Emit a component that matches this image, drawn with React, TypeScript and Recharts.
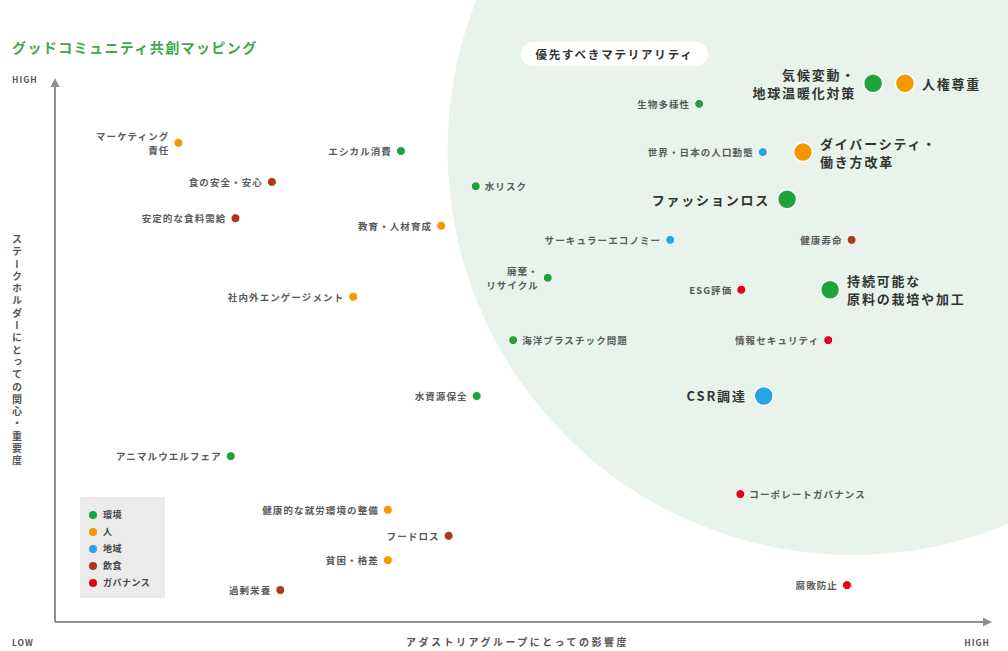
import React from 'react';
import { ScatterChart, Scatter, XAxis, YAxis, ReferenceDot, Legend } from 'recharts';

const FONT = "'Noto Sans CJK JP', 'Noto Sans', sans-serif";

// categories of materiality issues
const categories = ['環境', '人', '地域', '飲食', 'ガバナンス'];
const categoryColors = ['#1fa33b', '#f39800', '#27a5e3', '#a8391a', '#e60012'];

// issue names ("\n" = line break in the label)
const issueNames = [
  '気候変動・\n地球温暖化対策', '人権尊重', '生物多様性', '世界・日本の人口動態', 'ダイバーシティ・\n働き方改革',
  'ファッションロス', 'サーキュラーエコノミー', '健康寿命', '持続可能な\n原料の栽培や加工', 'ESG評価',
  '廃棄・\nリサイクル', '水リスク', '海洋プラスチック問題', '情報セキュリティ', 'CSR調達',
  '水資源保全', 'コーポレートガバナンス', '腐敗防止', 'エシカル消費', 'マーケティング\n責任',
  '食の安全・安心', '安定的な食料需給', '教育・人材育成', '社内外エンゲージメント', 'アニマルウエルフェア',
  '健康的な就労環境の整備', 'フードロス', '貧困・格差', '過剰栄養',
];
// x: impact on the Adastria group (0-100)
const impact = [
  87.5, 90.9, 68.9, 75.7, 80.0,
  78.3, 65.8, 85.2, 82.9, 73.4,
  52.7, 45.0, 49.0, 82.7, 75.8,
  45.1, 73.3, 84.7, 37.0, 13.2,
  23.2, 19.3, 41.3, 31.9, 18.8,
  35.6, 42.1, 35.6, 24.1,
];
// y: concern / importance for stakeholders (0-100)
const concern = [
  99.4, 99.4, 95.6, 86.7, 86.7,
  78.0, 70.5, 70.5, 61.3, 61.3,
  63.5, 80.4, 52.0, 52.0, 41.7,
  41.7, 23.6, 6.8, 86.9, 88.4,
  81.2, 74.5, 73.1, 60.0, 30.6,
  20.7, 15.9, 11.4, 5.9,
];
// index into categories
const issueCategory = [
  0, 1, 0, 2, 1,
  0, 2, 3, 0, 4,
  0, 0, 0, 4, 2,
  0, 4, 4, 0, 1,
  3, 3, 1, 1, 0,
  1, 3, 1, 3,
];
// priority materiality (large marker)
const isPriority = [
  true, true, false, false, true,
  true, false, false, true, false,
  false, false, false, false, true,
  false, false, false, false, false,
  false, false, false, false, false,
  false, false, false, false,
];

// labels drawn on the right side of the marker
const rightLabels = new Set(['人権尊重', 'ダイバーシティ・\n働き方改革', '持続可能な\n原料の栽培や加工', '水リスク', '海洋プラスチック問題', 'コーポレートガバナンス']);

const issues = issueNames.map((name, i) => ({
  name,
  x: impact[i],
  y: concern[i],
  cat: issueCategory[i],
  big: isPriority[i],
}));

const IssueMark = (props: any) => {
  const { cx, cy, payload, fill } = props;
  const big = payload.big;
  const r = big ? 9.5 : 4.5;
  const right = rightLabels.has(payload.name);
  const gap = big ? 17 : 9;
  const lines: string[] = payload.name.split('\n');
  const lh = big ? 18 : 14;
  const startY = cy - ((lines.length - 1) * lh) / 2;
  return (
    <g>
      <circle cx={cx} cy={cy} r={r} fill={fill} stroke="#fff" strokeWidth={big ? 1.5 : 1} />
      <text
        x={right ? cx + gap : cx - gap}
        textAnchor={right ? 'start' : 'end'}
        fontFamily={FONT}
        fontSize={big ? 13 : 9.5}
        fontWeight={700}
        letterSpacing={big ? 1.8 : 1.1}
        fill={big ? '#333' : '#5a5a5a'}
      >
        {lines.map((ln, k) => (
          <tspan key={k} x={right ? cx + gap : cx - gap} y={startY + k * lh} dominantBaseline="central">
            {ln}
          </tspan>
        ))}
      </text>
    </g>
  );
};

const XTick = (props: any) => {
  const { x, payload } = props;
  const low = payload.value === 0;
  return (
    <text x={low ? x - 43 : x} y={646} textAnchor={low ? 'start' : 'end'} fontFamily={FONT} fontSize={8.5} fontWeight={700} letterSpacing={1} fill="#555">
      {low ? 'LOW' : 'HIGH'}
    </text>
  );
};

const YTick = (props: any) => {
  const { y } = props;
  return (
    <text x={12} y={y + 3} textAnchor="start" fontFamily={FONT} fontSize={8.5} fontWeight={700} letterSpacing={1} fill="#555">
      HIGH
    </text>
  );
};

const YTitle = (props: any) => {
  const { viewBox } = props;
  return (
    <text
      x={17}
      y={viewBox.y + viewBox.height / 2}
      textAnchor="middle"
      writingMode="vertical-rl"
      fontFamily={FONT}
      fontSize={10}
      fontWeight={700}
      letterSpacing={2.3}
      fill="#555"
    >
      ステークホルダーにとっての関心・重要度
    </text>
  );
};

const XTitle = (props: any) => {
  const { viewBox } = props;
  return (
    <text x={viewBox.x + viewBox.width / 2 - 5} y={646} textAnchor="middle" fontFamily={FONT} fontSize={10} fontWeight={700} letterSpacing={2.5} fill="#555">
      アダストリアグループにとっての影響度
    </text>
  );
};

const renderLegend = () => (
  <div style={{ background: '#ebebeb', width: 85, height: 101, padding: '9px 0 0 9px', boxSizing: 'border-box', fontFamily: FONT }}>
    {categories.map((c, i) => (
      <div key={c} style={{ display: 'flex', alignItems: 'center', height: 17, fontSize: 9, fontWeight: 700, color: '#444', letterSpacing: 0.5 }}>
        <span style={{ width: 8, height: 8, borderRadius: 4, background: categoryColors[i], marginRight: 6 }} />
        {c}
      </div>
    ))}
  </div>
);

export default function App() {
  return (
    <div style={{ position: 'absolute', left: 0, top: 0, width: 1008, height: 651, background: '#fff', overflow: 'hidden' }}>
      <ScatterChart width={1008} height={651} margin={{ top: 80, right: 18, bottom: 0, left: 10 }}>
        <ReferenceDot x={85.3} y={87.1} r={405} fill="#e8f3ec" stroke="none" ifOverflow="visible" zIndex={-1} />
        <XAxis
          type="number"
          dataKey="x"
          domain={[0, 100]}
          ticks={[0, 100]}
          height={29}
          axisLine={{ stroke: '#8f8f8f', strokeWidth: 2 }}
          tickLine={false}
          tick={<XTick />}
          label={{ content: <XTitle /> }}
        />
        <YAxis
          type="number"
          dataKey="y"
          domain={[0, 100]}
          ticks={[100]}
          width={45}
          axisLine={{ stroke: '#8f8f8f', strokeWidth: 2 }}
          tickLine={false}
          tick={<YTick />}
          label={{ content: <YTitle /> }}
        />
        <ReferenceDot
          x={100}
          y={0}
          ifOverflow="visible"
          shape={(p: any) => <polygon points={`${p.cx + 2},${p.cy} ${p.cx - 7},${p.cy - 4.5} ${p.cx - 7},${p.cy + 4.5}`} fill="#8f8f8f" />}
        />
        <ReferenceDot
          x={0}
          y={100}
          ifOverflow="visible"
          shape={(p: any) => <polygon points={`${p.cx},${p.cy - 2} ${p.cx - 4.5},${p.cy + 7} ${p.cx + 4.5},${p.cy + 7}`} fill="#8f8f8f" />}
        />
        {categories.map((c, i) => (
          <Scatter
            key={c}
            name={c}
            data={issues.filter((d) => d.cat === i)}
            fill={categoryColors[i]}
            shape={<IssueMark />}
            isAnimationActive={false}
          />
        ))}
        <Legend
          layout="vertical"
          align="center"
          verticalAlign="middle"
          content={renderLegend}
          wrapperStyle={{ left: 80, top: 497, width: 85, height: 101 }}
        />
      </ScatterChart>
      <div style={{ position: 'absolute', left: 12, top: 37, fontFamily: FONT, fontSize: 14, fontWeight: 700, letterSpacing: 1.4, color: '#3aaa48' }}>
        グッドコミュニティ共創マッピング
      </div>
      <div
        style={{
          position: 'absolute',
          left: 521,
          top: 42,
          width: 187,
          height: 24,
          borderRadius: 12,
          background: '#fff',
          fontFamily: FONT,
          fontSize: 11.5,
          fontWeight: 700,
          letterSpacing: 1.8,
          color: '#333',
          display: 'flex',
          alignItems: 'center',
          justifyContent: 'center',
        }}
      >
        優先すべきマテリアリティ
      </div>
    </div>
  );
}
